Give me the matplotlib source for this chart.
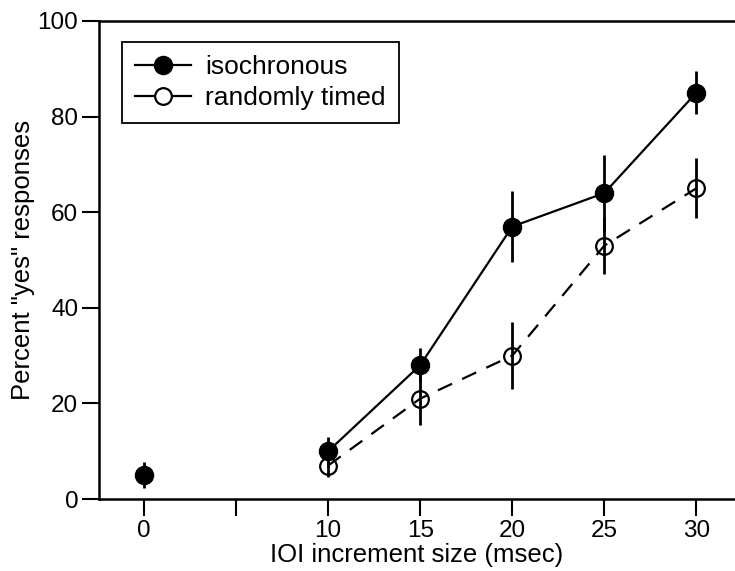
import matplotlib
matplotlib.use("Agg")
import matplotlib.pyplot as plt
from matplotlib.lines import Line2D

plt.rcParams['font.family'] = ['Liberation Sans', 'DejaVu Sans']

# Data
iso_x = [10, 15, 20, 25, 30]
iso_y = [10, 28, 57, 64, 85]
iso_err = [3, 3.5, 7.5, 8, 4.5]

rand_x = [10, 15, 20, 25, 30]
rand_y = [7, 21, 30, 53, 65]
rand_err = [2.5, 5.5, 7, 6, 6.3]

zero_x = [0]
zero_y = [5]
zero_err = [2.8]

xticks = [0, 5, 10, 15, 20, 25, 30]
xticklabels = ['0', '', '10', '15', '20', '25', '30']
yticks = [0, 20, 40, 60, 80, 100]

fig = plt.figure(figsize=(7.35, 5.71), dpi=100)
ax = fig.add_axes([99/735, 72/571, 1 - 99/735, (550-72)/571])

# Randomly timed (dashed, open circles)
ax.errorbar(rand_x, rand_y, yerr=rand_err, fmt='none', ecolor='black', elinewidth=2, capsize=0, zorder=2)
ax.plot(rand_x, rand_y, color='black', lw=1.6, linestyle=(0, (7, 5)), zorder=3)
ax.plot(rand_x, rand_y, linestyle='none', marker='o', ms=12, mfc='none', mec='black', mew=1.6, zorder=4)

# Isochronous (solid, filled circles)
ax.errorbar(iso_x, iso_y, yerr=iso_err, fmt='none', ecolor='black', elinewidth=2, capsize=0, zorder=2)
ax.plot(iso_x, iso_y, color='black', lw=1.6, marker='o', ms=13, mfc='black', mec='black', zorder=5)

# Zero-increment point
ax.errorbar(zero_x, zero_y, yerr=zero_err, fmt='o', color='black', ms=13, elinewidth=2, capsize=0, zorder=5)

ax.set_xlim(-2.45, 32.1)
ax.set_ylim(0, 100)
ax.set_xticks(xticks)
ax.set_xticklabels(xticklabels)
ax.set_yticks(yticks)

for s in ['left', 'top', 'bottom']:
    ax.spines[s].set_linewidth(1.8)
ax.spines['right'].set_visible(False)

ax.tick_params(axis='both', direction='out', length=12, width=1.5, labelsize=17.5, pad=3)

ax.set_xlabel('IOI increment size (msec)', fontsize=18.5, labelpad=1)
ax.set_ylabel('Percent "yes" responses', fontsize=18.5, labelpad=2)

handles = [
    Line2D([], [], color='black', lw=1.6, marker='o', ms=13, mfc='black', mec='black'),
    Line2D([], [], color='black', lw=1.6, marker='o', ms=12, mfc='white', mec='black', mew=1.6),
]
leg = ax.legend(handles, ['isochronous', 'randomly timed'], loc='upper left',
                bbox_to_anchor=(0.036, 0.956), fontsize=19, handlelength=2.1,
                handletextpad=0.55, borderpad=0.5, labelspacing=0.25,
                fancybox=False, framealpha=1, edgecolor='black', borderaxespad=0)
leg.get_frame().set_linewidth(1.3)

fig.savefig('out.png', dpi=100)
